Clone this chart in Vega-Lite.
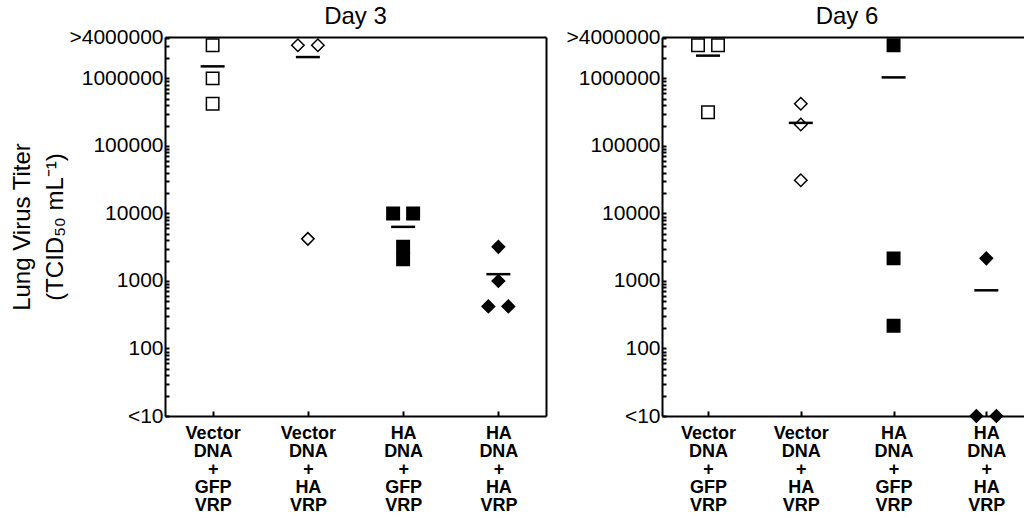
{
  "$schema": "https://vega.github.io/schema/vega-lite/v6.json",
  "background": "white",
  "padding": {"left": 10, "top": 4, "right": 0, "bottom": 0},
  "spacing": 19,
  "datasets": {
    "titers": [
      {"day": "Day 3", "group": "Vector DNA + GFP VRP", "pos": "C", "titer": 3100000},
      {"day": "Day 3", "group": "Vector DNA + GFP VRP", "pos": "C", "titer": 1000000},
      {"day": "Day 3", "group": "Vector DNA + GFP VRP", "pos": "C", "titer": 420000},
      {"day": "Day 3", "group": "Vector DNA + HA VRP", "pos": "L", "titer": 3100000},
      {"day": "Day 3", "group": "Vector DNA + HA VRP", "pos": "R", "titer": 3100000},
      {"day": "Day 3", "group": "Vector DNA + HA VRP", "pos": "C", "titer": 4200},
      {"day": "Day 3", "group": "HA DNA + GFP VRP", "pos": "L", "titer": 10000},
      {"day": "Day 3", "group": "HA DNA + GFP VRP", "pos": "R", "titer": 10000},
      {"day": "Day 3", "group": "HA DNA + GFP VRP", "pos": "C", "titer": 3200},
      {"day": "Day 3", "group": "HA DNA + GFP VRP", "pos": "C", "titer": 2100},
      {"day": "Day 3", "group": "HA DNA + HA VRP", "pos": "C", "titer": 3200},
      {"day": "Day 3", "group": "HA DNA + HA VRP", "pos": "C", "titer": 1000},
      {"day": "Day 3", "group": "HA DNA + HA VRP", "pos": "L", "titer": 420},
      {"day": "Day 3", "group": "HA DNA + HA VRP", "pos": "R", "titer": 420},
      {"day": "Day 6", "group": "Vector DNA + GFP VRP", "pos": "L", "titer": 3100000},
      {"day": "Day 6", "group": "Vector DNA + GFP VRP", "pos": "R", "titer": 3100000},
      {"day": "Day 6", "group": "Vector DNA + GFP VRP", "pos": "C", "titer": 315000},
      {"day": "Day 6", "group": "Vector DNA + HA VRP", "pos": "C", "titer": 420000},
      {"day": "Day 6", "group": "Vector DNA + HA VRP", "pos": "C", "titer": 207000},
      {"day": "Day 6", "group": "Vector DNA + HA VRP", "pos": "C", "titer": 31000},
      {"day": "Day 6", "group": "HA DNA + GFP VRP", "pos": "C", "titer": 3100000},
      {"day": "Day 6", "group": "HA DNA + GFP VRP", "pos": "C", "titer": 2160},
      {"day": "Day 6", "group": "HA DNA + GFP VRP", "pos": "C", "titer": 217},
      {"day": "Day 6", "group": "HA DNA + HA VRP", "pos": "C", "titer": 2160},
      {"day": "Day 6", "group": "HA DNA + HA VRP", "pos": "L", "titer": 10},
      {"day": "Day 6", "group": "HA DNA + HA VRP", "pos": "R", "titer": 10}
    ]
  },
  "config": {
    "font": "Liberation Sans",
    "view": {"stroke": null},
    "title": {"fontSize": 24, "fontWeight": "normal", "color": "black", "offset": -2},
    "axis": {
      "domainColor": "black",
      "domainWidth": 2,
      "tickColor": "black",
      "tickWidth": 2,
      "labelColor": "black",
      "titleColor": "black",
      "grid": false
    }
  },
  "hconcat": [
    {
      "title": {"text": "Day 3"},
      "width": 381,
      "height": 379,
      "data": {"name": "titers"},
      "transform": [{"filter": "datum.day == 'Day 3'"}],
      "resolve": {"axis": {"x": "independent", "y": "independent"}},
      "layer": [
        {
          "mark": {"type": "point", "filled": true, "stroke": "black", "strokeWidth": 1.5, "opacity": 1, "size": 155},
          "encoding": {
            "x": {
              "field": "group", "type": "nominal",
              "scale": {"type": "point", "padding": 0.5, "domain": ["Vector DNA + GFP VRP", "Vector DNA + HA VRP", "HA DNA + GFP VRP", "HA DNA + HA VRP"]},
              "axis": {"orient": "bottom", "title": null, "labelExpr": "split(datum.label, ' ')", "labelAngle": 0, "labelFontSize": 18, "labelFontWeight": "bold", "labelLineHeight": 18, "tickSize": -5, "labelPadding": 13, "labelBaseline": "top"}
            },
            "xOffset": {"field": "pos", "type": "nominal", "scale": {"type": "point", "domain": ["L", "C", "R"], "range": [-10, 10], "padding": 0}},
            "y": {
              "field": "titer", "type": "quantitative",
              "scale": {"type": "log", "domain": [10, 4100000], "nice": false},
              "axis": {
                "orient": "left",
                "title": ["Lung Virus Titer", "(TCID₅₀ mL⁻¹)"],
                "titleFontSize": 24, "titleFontWeight": "normal", "titleLineHeight": 33, "titlePadding": 1,
                "values": [10, 20, 30, 40, 50, 60, 70, 80, 90, 100, 200, 300, 400, 500, 600, 700, 800, 900, 1000, 2000, 3000, 4000, 5000, 6000, 7000, 8000, 9000, 10000, 20000, 30000, 40000, 50000, 60000, 70000, 80000, 90000, 100000, 200000, 300000, 400000, 500000, 600000, 700000, 800000, 900000, 1000000, 2000000, 3000000, 4000000],
                "format": "d",
                "labelExpr": "datum.value == 10 ? '<10' : datum.value == 4000000 ? '>4000000' : indexof([100, 1000, 10000, 100000, 1000000], datum.value) >= 0 ? datum.label : ''",
                "labelFontSize": 21, "tickSize": -4, "labelPadding": 6, "labelOverlap": false
              }
            },
            "shape": {"field": "group", "type": "nominal", "legend": null, "scale": {"domain": ["Vector DNA + GFP VRP", "Vector DNA + HA VRP", "HA DNA + GFP VRP", "HA DNA + HA VRP"], "range": ["square", "diamond", "square", "diamond"]}},
            "fill": {"field": "group", "type": "nominal", "legend": null, "scale": {"domain": ["Vector DNA + GFP VRP", "Vector DNA + HA VRP", "HA DNA + GFP VRP", "HA DNA + HA VRP"], "range": ["white", "white", "black", "black"]}}
          }
        },
        {
          "mark": {"type": "tick", "color": "black", "size": 24, "thickness": 2.5, "orient": "horizontal"},
          "encoding": {
            "x": {"field": "group", "type": "nominal", "axis": {"orient": "top", "title": null, "labels": false, "ticks": false, "domain": true}},
            "y": {"aggregate": "mean", "field": "titer", "type": "quantitative", "axis": {"orient": "right", "title": null, "labels": false, "ticks": false, "domain": true}}
          }
        }
      ]
    },
    {
      "title": {"text": "Day 6", "dx": 4},
      "width": 362,
      "height": 379,
      "data": {"name": "titers"},
      "transform": [{"filter": "datum.day == 'Day 6'"}],
      "resolve": {"axis": {"x": "independent"}},
      "layer": [
        {
          "mark": {"type": "point", "filled": true, "stroke": "black", "strokeWidth": 1.5, "opacity": 1, "size": 155},
          "encoding": {
            "x": {
              "field": "group", "type": "nominal",
              "scale": {"type": "point", "padding": 0.451, "align": 0.55, "domain": ["Vector DNA + GFP VRP", "Vector DNA + HA VRP", "HA DNA + GFP VRP", "HA DNA + HA VRP"]},
              "axis": {"orient": "bottom", "title": null, "labelExpr": "split(datum.label, ' ')", "labelAngle": 0, "labelFontSize": 18, "labelFontWeight": "bold", "labelLineHeight": 18, "tickSize": -5, "labelPadding": 13, "labelBaseline": "top"}
            },
            "xOffset": {"field": "pos", "type": "nominal", "scale": {"type": "point", "domain": ["L", "C", "R"], "range": [-10, 10], "padding": 0}},
            "y": {
              "field": "titer", "type": "quantitative",
              "scale": {"type": "log", "domain": [10, 4100000], "nice": false},
              "axis": {
                "title": null,
                "values": [10, 20, 30, 40, 50, 60, 70, 80, 90, 100, 200, 300, 400, 500, 600, 700, 800, 900, 1000, 2000, 3000, 4000, 5000, 6000, 7000, 8000, 9000, 10000, 20000, 30000, 40000, 50000, 60000, 70000, 80000, 90000, 100000, 200000, 300000, 400000, 500000, 600000, 700000, 800000, 900000, 1000000, 2000000, 3000000, 4000000],
                "format": "d",
                "labelExpr": "datum.value == 10 ? '<10' : datum.value == 4000000 ? '>4000000' : indexof([100, 1000, 10000, 100000, 1000000], datum.value) >= 0 ? datum.label : ''",
                "labelFontSize": 21, "tickSize": -4, "labelPadding": 6, "labelOverlap": false
              }
            },
            "shape": {"field": "group", "type": "nominal", "legend": null, "scale": {"domain": ["Vector DNA + GFP VRP", "Vector DNA + HA VRP", "HA DNA + GFP VRP", "HA DNA + HA VRP"], "range": ["square", "diamond", "square", "diamond"]}},
            "fill": {"field": "group", "type": "nominal", "legend": null, "scale": {"domain": ["Vector DNA + GFP VRP", "Vector DNA + HA VRP", "HA DNA + GFP VRP", "HA DNA + HA VRP"], "range": ["white", "white", "black", "black"]}}
          }
        },
        {
          "mark": {"type": "tick", "color": "black", "size": 24, "thickness": 2.5, "orient": "horizontal"},
          "encoding": {
            "x": {"field": "group", "type": "nominal", "axis": {"orient": "top", "title": null, "labels": false, "ticks": false, "domain": true}},
            "y": {"aggregate": "mean", "field": "titer", "type": "quantitative"}
          }
        }
      ]
    }
  ]
}
